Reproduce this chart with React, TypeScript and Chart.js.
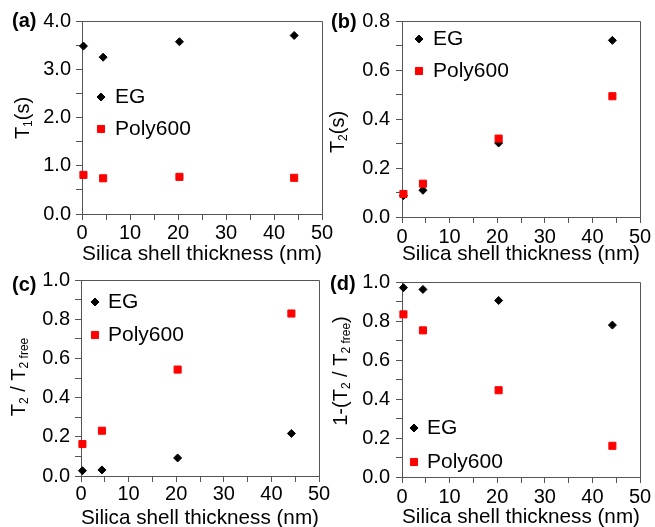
import React, { useEffect, useRef } from 'react';
import { Chart, registerables } from 'chart.js';
Chart.register(...registerables);

// ---------- data ----------
const thickness = [0.3, 4.4, 20.3, 44.2];
const t1EG = [3.48, 3.25, 3.57, 3.70];
const t1Poly = [0.81, 0.74, 0.77, 0.75];
const t2EG = [0.087, 0.109, 0.302, 0.721];
const t2Poly = [0.094, 0.136, 0.320, 0.493];
const ratioEG = [0.027, 0.031, 0.092, 0.217];
const ratioPoly = [0.163, 0.231, 0.543, 0.829];
const oneMinusEG = [0.971, 0.962, 0.905, 0.779];
const oneMinusPoly = [0.834, 0.752, 0.445, 0.160];

const seriesLabels = ['EG', 'Poly600'];
const panelLabels = ['(a)', '(b)', '(c)', '(d)'];
const xTitle = 'Silica shell thickness (nm)';
const xTickLabels = [0, 10, 20, 30, 40, 50];
const yTickLabelsA = [0, 1, 2, 3, 4];
const yTickLabelsB = [0, 0.2, 0.4, 0.6, 0.8];
const yTickLabelsCD = [0, 0.2, 0.4, 0.6, 0.8, 1.0];

type Seg = { t: string; sub?: boolean };
const yTitleA: Seg[] = [{ t: 'T' }, { t: '1', sub: true }, { t: '(s)' }];
const yTitleB: Seg[] = [{ t: 'T' }, { t: '2', sub: true }, { t: '(s)' }];
const yTitleC: Seg[] = [{ t: 'T' }, { t: '2', sub: true }, { t: ' / T' }, { t: '2 free', sub: true }];
const yTitleD: Seg[] = [{ t: '1-(T' }, { t: '2', sub: true }, { t: ' / T' }, { t: '2 free', sub: true }, { t: ')' }];

// ---------- style / layout ----------
const W = 655;
const H = 527;
const FONT = "'Liberation Sans', Arial, sans-serif";
const AXIS = '#555555';
const RED = '#ff0000';
const TICK_LEN = 6;
const TICK_FONT = 20;
const TITLE_FONT = 21;
const LEGEND_FONT = 21;

type Panel = {
  label: string;
  eg: number[];
  poly: number[];
  yMax: number;
  yStep: number;
  yLabels: number[];
  yTitle: Seg[];
  area: { l: number; r: number; t: number; b: number };
  titleY: number;
  xPad: number;
  yPad: number;
  yTitlePos: { x: number; y: number };
  labelPos: { x: number; y: number };
  legend: { mx: number; tx: number; y1: number; y2: number };
};

const panels: Panel[] = [
  {
    label: panelLabels[0], eg: t1EG, poly: t1Poly, yMax: 4, yStep: 0.5, yLabels: yTickLabelsA, yTitle: yTitleA,
    area: { l: 82, r: 322, t: 21, b: 214 }, titleY: 254, xPad: 1, yPad: 5,
    yTitlePos: { x: 23, y: 118 }, labelPos: { x: 12, y: 21 },
    legend: { mx: 101, tx: 115, y1: 97, y2: 129 },
  },
  {
    label: panelLabels[1], eg: t2EG, poly: t2Poly, yMax: 0.8, yStep: 0.1, yLabels: yTickLabelsB, yTitle: yTitleB,
    area: { l: 402, r: 640, t: 21, b: 217 }, titleY: 254, xPad: 2, yPad: 6,
    yTitlePos: { x: 338, y: 132 }, labelPos: { x: 331, y: 22 },
    legend: { mx: 419, tx: 433, y1: 39, y2: 71 },
  },
  {
    label: panelLabels[2], eg: ratioEG, poly: ratioPoly, yMax: 1.0, yStep: 0.1, yLabels: yTickLabelsCD, yTitle: yTitleC,
    area: { l: 81, r: 319, t: 280, b: 476 }, titleY: 518, xPad: 0, yPad: 5,
    yTitlePos: { x: 19, y: 377 }, labelPos: { x: 12, y: 285 },
    legend: { mx: 95, tx: 108, y1: 302, y2: 335 },
  },
  {
    label: panelLabels[3], eg: oneMinusEG, poly: oneMinusPoly, yMax: 1.0, yStep: 0.1, yLabels: yTickLabelsCD, yTitle: yTitleD,
    area: { l: 402, r: 640, t: 282, b: 477 }, titleY: 517, xPad: 2, yPad: 6,
    yTitlePos: { x: 341, y: 371 }, labelPos: { x: 330, y: 284 },
    legend: { mx: 414, tx: 427, y1: 428, y2: 462 },
  },
];

function drawMarker(ctx: CanvasRenderingContext2D, style: string, x: number, y: number, r: number, color: string) {
  ctx.save();
  ctx.fillStyle = color;
  ctx.strokeStyle = color;
  ctx.lineWidth = 1;
  ctx.beginPath();
  if (style === 'rectRot') {
    ctx.moveTo(x - r, y);
    ctx.lineTo(x, y - r);
    ctx.lineTo(x + r, y);
    ctx.lineTo(x, y + r);
  } else {
    const s = Math.SQRT1_2 * r;
    ctx.rect(x - s, y - s, 2 * s, 2 * s);
  }
  ctx.closePath();
  ctx.fill();
  ctx.stroke();
  ctx.restore();
}

function drawRotated(ctx: CanvasRenderingContext2D, segs: Seg[], cx: number, cy: number) {
  const main = `20px ${FONT}`;
  const sub = `12px ${FONT}`;
  ctx.save();
  let total = 0;
  const widths = segs.map((s) => {
    ctx.font = s.sub ? sub : main;
    const w = ctx.measureText(s.t).width;
    total += w;
    return w;
  });
  ctx.translate(cx, cy);
  ctx.rotate(-Math.PI / 2);
  ctx.textAlign = 'left';
  ctx.textBaseline = 'middle';
  ctx.fillStyle = '#000';
  let x = -total / 2;
  segs.forEach((s, i) => {
    ctx.font = s.sub ? sub : main;
    ctx.fillText(s.t, x, s.sub ? 6 : 0);
    x += widths[i];
  });
  ctx.restore();
}

function makePlugin(p: Panel) {
  return {
    id: 'decor',
    afterDraw(chart: any) {
      const ctx: CanvasRenderingContext2D = chart.ctx;
      const ca = chart.chartArea;
      // frame top & right
      ctx.save();
      ctx.strokeStyle = AXIS;
      ctx.lineWidth = 1;
      const top = Math.round(ca.top - 0.5) + 0.5;
      const right = Math.round(ca.right - 0.5) + 0.5;
      const left = Math.round(ca.left - 0.5) + 0.5;
      const bottom = Math.round(ca.bottom - 0.5) + 0.5;
      ctx.beginPath();
      ctx.moveTo(left, top);
      ctx.lineTo(right, top);
      ctx.lineTo(right, bottom);
      ctx.stroke();
      ctx.restore();

      // y title
      drawRotated(ctx, p.yTitle, p.yTitlePos.x, p.yTitlePos.y);

      // panel label
      ctx.save();
      ctx.font = `bold 20px ${FONT}`;
      ctx.fillStyle = '#000';
      ctx.textAlign = 'left';
      ctx.textBaseline = 'middle';
      ctx.fillText(p.label, p.labelPos.x, p.labelPos.y);
      ctx.restore();

      // legend (order: EG, Poly600)
      const ds = chart.data.datasets;
      const eg = ds.find((d: any) => d.label === seriesLabels[0]);
      const poly = ds.find((d: any) => d.label === seriesLabels[1]);
      const items = [
        { d: eg, y: p.legend.y1 },
        { d: poly, y: p.legend.y2 },
      ];
      items.forEach(({ d, y }) => {
        drawMarker(ctx, d.pointStyle, p.legend.mx, y, d.pointRadius, d.backgroundColor);
        ctx.save();
        ctx.font = `${LEGEND_FONT}px ${FONT}`;
        ctx.fillStyle = '#000';
        ctx.textAlign = 'left';
        ctx.textBaseline = 'middle';
        ctx.fillText(d.label, p.legend.tx, y);
        ctx.restore();
      });
    },
  };
}

function PanelChart({ p }: { p: Panel }) {
  const ref = useRef<HTMLCanvasElement | null>(null);
  useEffect(() => {
    if (!ref.current) return;
    const yWidth = 60;
    const titleLH = TITLE_FONT * 1.2;
    const xHeight = Math.round(p.titleY - p.area.b + titleLH / 2);
    const pts = (ys: number[]) => ys.map((y, i) => ({ x: thickness[i], y }));
    const chart = new Chart(ref.current, {
      type: 'scatter',
      data: {
        datasets: [
          {
            label: seriesLabels[1],
            data: pts(p.poly),
            pointStyle: 'rect',
            pointRadius: 5,
            pointHoverRadius: 5,
            backgroundColor: RED,
            borderColor: RED,
            borderWidth: 1,
            clip: false,
          } as any,
          {
            label: seriesLabels[0],
            data: pts(p.eg),
            pointStyle: 'rectRot',
            pointRadius: 4,
            pointHoverRadius: 4,
            backgroundColor: '#000000',
            borderColor: '#000000',
            borderWidth: 1,
            clip: false,
          } as any,
        ],
      },
      options: {
        responsive: false,
        animation: false,
        events: [],
        layout: {
          padding: {
            left: p.area.l - yWidth,
            right: W - p.area.r,
            top: p.area.t,
            bottom: H - p.area.b - xHeight,
          },
        },
        plugins: {
          legend: { display: false },
          tooltip: { enabled: false },
          title: { display: false },
        },
        scales: {
          x: {
            type: 'linear',
            min: 0,
            max: 50,
            afterFit: (s: any) => {
              s.height = xHeight;
            },
            border: { display: true, color: AXIS, width: 1 },
            grid: { drawOnChartArea: false, drawTicks: true, tickLength: TICK_LEN, color: AXIS },
            ticks: {
              stepSize: 5,
              autoSkip: false,
              maxRotation: 0,
              minRotation: 0,
              padding: p.xPad,
              color: '#000',
              font: { family: FONT, size: TICK_FONT },
              callback: (v: any) => (xTickLabels.some((t) => Math.abs(t - Number(v)) < 1e-6) ? String(Math.round(Number(v))) : ''),
            },
            title: {
              display: true,
              text: xTitle,
              color: '#000',
              font: { family: FONT, size: TITLE_FONT, lineHeight: 1.2 },
              padding: { top: 0, bottom: 0 },
            },
          },
          y: {
            type: 'linear',
            min: 0,
            max: p.yMax,
            afterFit: (s: any) => {
              s.width = yWidth;
            },
            border: { display: true, color: AXIS, width: 1 },
            grid: { drawOnChartArea: false, drawTicks: true, tickLength: TICK_LEN, color: AXIS },
            ticks: {
              stepSize: p.yStep,
              autoSkip: false,
              padding: p.yPad,
              color: '#000',
              font: { family: FONT, size: TICK_FONT },
              callback: (v: any) => (p.yLabels.some((t) => Math.abs(t - Number(v)) < 1e-6) ? Number(v).toFixed(1) : ''),
            },
          },
        },
      },
      plugins: [makePlugin(p)],
    });
    return () => chart.destroy();
  }, [p]);
  return (
    <canvas
      ref={ref}
      width={W}
      height={H}
      style={{ position: 'absolute', left: 0, top: 0, width: W, height: H }}
    />
  );
}

export default function App() {
  return (
    <div style={{ position: 'absolute', left: 0, top: 0, width: W, height: H, background: '#fff', overflow: 'hidden' }}>
      {panels.map((p) => (
        <PanelChart key={p.label} p={p} />
      ))}
    </div>
  );
}
